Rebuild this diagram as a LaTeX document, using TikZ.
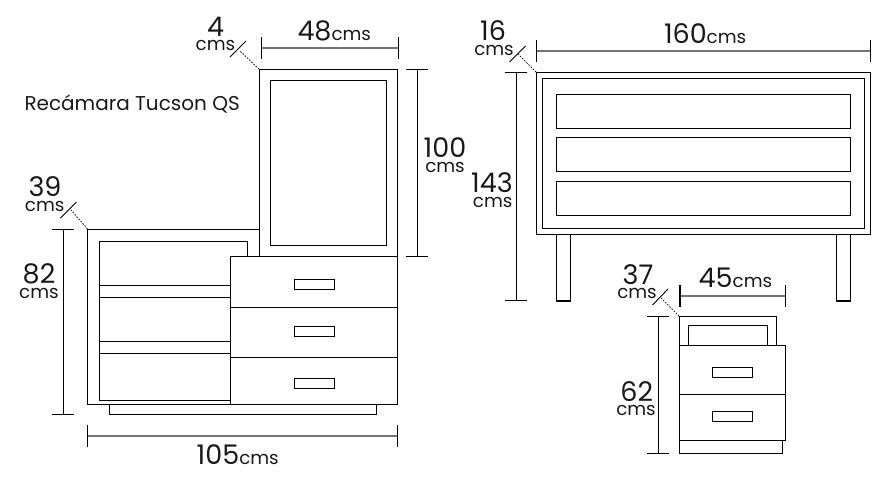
\documentclass[tikz,border=0pt]{standalone}
\usepackage{fontspec}
\setmainfont{Poppins}
\newcommand{\numf}{\fontsize{27}{27}\selectfont}
\newcommand{\cmsf}{\fontsize{18.3}{18.3}\selectfont}
\newcommand{\titf}{\fontsize{20}{20}\selectfont}
\tikzset{
  x=1pt,y=-1pt,
  edge/.style={draw=black,line width=1.1pt,fill=white},
  dimline/.style={draw=black,line width=1.1pt},
  dimgray/.style={draw=black!55,line width=2pt},
  dotline/.style={draw=black!85,line width=0.9pt,dash pattern=on 1.6pt off 1.4pt},
  lab/.style={inner sep=0pt,outer sep=0pt,text=black!90,anchor=base,text depth=0pt,text height=9pt},
  labw/.style={inner sep=0pt,outer sep=0pt,text=black!90,anchor=base west},
}
\begin{document}
\begin{tikzpicture}
\useasboundingbox (0,0) rectangle (889,480);
% ---------- dresser with mirror
\draw[edge] (87.5,229.3) rectangle (397.5,404.3);
\draw[edge] (259.5,69.5) rectangle (397.5,256.5);
\draw[edge] (270.3,80.5) rectangle (386.5,245.3);
\draw[edge] (109.5,404.3) rectangle (376.5,414.3);
\draw[edge] (99.5,241.5) rectangle (247.5,400.3);
\draw[edge] (99.5,285.3) rectangle (230.5,297.3);
\draw[edge] (99.5,341.3) rectangle (230.5,353.3);
\draw[edge] (230.5,256.5) rectangle (397.5,307.5);
\draw[edge] (230.5,307.5) rectangle (397.5,357.3);
\draw[edge] (230.5,357.3) rectangle (397.5,404.3);
\draw[edge] (294.5,279.5) rectangle (334.5,289.5);
\draw[edge] (294.5,326.5) rectangle (334.5,336.5);
\draw[edge] (294.5,378.5) rectangle (334.5,388.5);
% ---------- dresser dimensions
\draw[dimline] (63.5,229.3) -- (63.5,414.3) (52,229.3) -- (74,229.3) (52,414.3) -- (74,414.3);
\draw[dimline] (417.5,69.5) -- (417.5,256.5) (406,69.5) -- (428,69.5) (406,256.5) -- (428,256.5);
\draw[dimgray] (87.5,436) -- (397.5,436);
\draw[dimline] (87.5,425) -- (87.5,446.5) (397.5,425) -- (397.5,446.5);
\draw[dimgray] (261.5,47.5) -- (398.5,47.5);
\draw[dimline] (261.5,37) -- (261.5,58.5) (398.5,37) -- (398.5,58.5);
\draw[dimline,line width=0.9pt] (230,57) -- (246,41);
\draw[dotline] (259,69) -- (240,51);
\draw[dimline,line width=0.9pt] (60.5,218) -- (76.5,202);
\draw[dotline] (87.5,229) -- (71,210);
% ---------- wide chest
\draw[edge] (556.5,234.3) rectangle (570.5,301);
\draw[edge] (836.5,234.3) rectangle (850.5,301);
\draw[edge] (536.3,72.3) rectangle (870.3,234.3);
\draw[edge] (542.3,78.3) rectangle (864.3,228.3);
\draw[edge] (556.3,94.3) rectangle (850.3,128.3);
\draw[edge] (556.3,137.5) rectangle (850.3,171.3);
\draw[edge] (556.3,181.5) rectangle (850.3,215.3);
\draw[dimline] (516.5,72.3) -- (516.5,300.5) (505,72.3) -- (527,72.3) (505,300.5) -- (527,300.5);
\draw[dimgray] (536.3,51) -- (870.3,51);
\draw[dimline] (536.3,40) -- (536.3,61.5) (870.3,40) -- (870.3,61.5);
\draw[dimline,line width=0.9pt] (509.5,62) -- (525.5,46);
\draw[dotline] (536,72) -- (518,54);
% ---------- nightstand
\draw[edge] (679.3,316.3) rectangle (776.7,345.3);
\draw[edge] (688.3,325.3) rectangle (767.7,345.3);
\draw[edge] (679.3,440.3) rectangle (782.7,453.3);
\draw[edge] (679.3,345.3) rectangle (785.3,394.3);
\draw[edge] (679.3,394.3) rectangle (785.3,440.3);
\draw[edge] (712.3,367.3) rectangle (752.7,377.3);
\draw[edge] (712.3,411.3) rectangle (752.7,421.3);
\draw[dimline] (658.5,316.3) -- (658.5,453.3) (647,316.3) -- (669,316.3) (647,453.3) -- (669,453.3);
\draw[dimgray] (680,296) -- (785.3,296);
\draw[dimline] (680,285) -- (680,306.5) (785.3,285) -- (785.3,306.5);
\draw[dimline,line width=0.9pt] (652.5,305) -- (668,289);
\draw[dotline] (679,316) -- (661,298);
% ---------- labels
\node[labw] (title) at (24.5,110.7) {\titf Recámara Tucson QS};
\node[lab] (n4) at (215.5,36) {\numf 4};
\node[lab] (c4) at (215.5,50.7) {\cmsf cms};
\node[labw] (n48) at (297.5,40.7) {\numf 48\cmsf cms};
\node[lab] (n39) at (45,196.7) {\numf 39};
\node[lab] (c39) at (44.7,211.7) {\cmsf cms};
\node[lab] (n82) at (39,283.3) {\numf 82};
\node[lab] (c82) at (39,298) {\cmsf cms};
\node[labw] (n105) at (196.7,464) {\numf 105\cmsf cms};
\node[lab] (n100) at (445,157) {\numf 100};
\node[lab] (c100) at (445,172) {\cmsf cms};
\node[lab] (n16) at (493,40.7) {\numf 16};
\node[lab] (c16) at (494,55) {\cmsf cms};
\node[labw] (n160) at (664,43.3) {\numf 160\cmsf cms};
\node[lab] (n143) at (492,192.7) {\numf 143};
\node[lab] (c143) at (492.7,207.3) {\cmsf cms};
\node[lab] (n37) at (638,284) {\numf 37};
\node[lab] (c37) at (637,298) {\cmsf cms};
\node[lab] (n62) at (636.7,401) {\numf 62};
\node[lab] (c62) at (636,415) {\cmsf cms};
\node[labw] (n45) at (698.7,287.7) {\numf 45\cmsf cms};
\end{tikzpicture}
\end{document}
